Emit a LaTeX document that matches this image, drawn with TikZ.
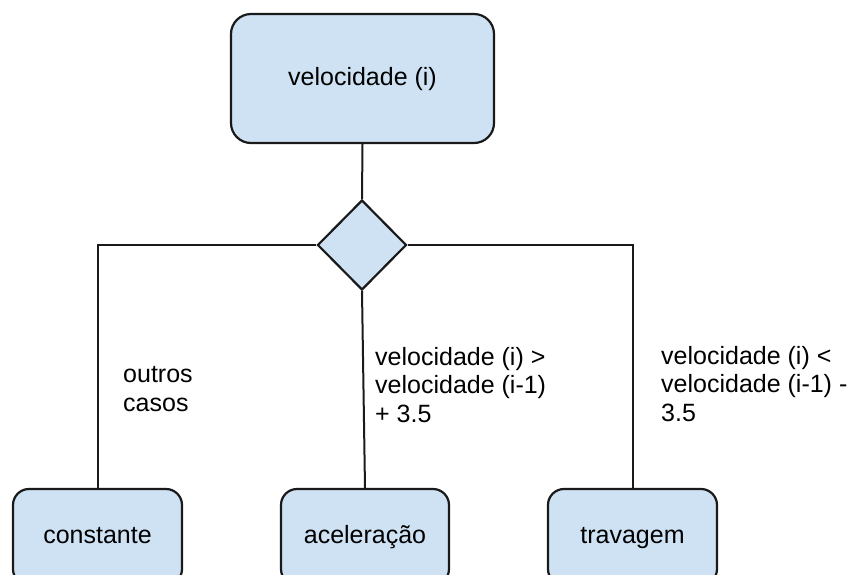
\documentclass[tikz,border=0pt]{standalone}
\usepackage{fontspec}
\setmainfont{Liberation Sans}
\usetikzlibrary{shapes.geometric}

\definecolor{boxfill}{HTML}{CFE2F3}
\definecolor{ink}{HTML}{1A1A1A}

\tikzset{
  stagebox/.style={draw=ink, fill=boxfill, line width=2.2pt, rounded corners=16pt,
    inner sep=0pt, text height=18pt, text depth=5pt,
    font=\fontsize{25}{28.5}\selectfont},
  decision/.style={draw=ink, fill=boxfill, diamond, line width=2.2pt, inner sep=0pt,
    minimum width=89pt, minimum height=90pt},
  wire/.style={draw=ink, line width=2pt},
  % anchored on the baseline of the last line
  cond/.style={inner sep=0pt, anchor=base west, align=left,
    font=\fontsize{25}{28.5}\selectfont}
}

\begin{document}
\begin{tikzpicture}[x=1pt, y=-1pt]
  \useasboundingbox (0,0) rectangle (847,574);
  \clip (0,0) rectangle (847,574);

  % source value and the decision point
  \node[stagebox, rounded corners=20pt, minimum width=263pt, minimum height=129pt]
    (vel) at (362.5,78.5) {velocidade (i)};
  \node[decision] (dec) at (362,245) {};

  % the three outcomes (boxes run past the bottom edge)
  \node[stagebox, minimum width=169pt, minimum height=96pt] (const) at (97.5,537) {constante};
  \node[stagebox, minimum width=168pt, minimum height=96pt] (acel) at (365,537) {aceleração};
  \node[stagebox, minimum width=169pt, minimum height=96pt] (trav) at (632.5,537) {travagem};

  % connectors
  \draw[wire] (vel.south) -- (dec.north);
  \draw[wire] (dec.west) -| (const.north);
  \draw[wire] (dec.south) -- (acel.north);
  \draw[wire] (dec.east) -| (trav.north);

  % branch conditions
  \node[cond] (c1) at (123,411) {outros\\casos};
  \node[cond] (c2) at (375,422) {velocidade (i) >\\velocidade (i-1)\\+ 3.5};
  \node[cond] (c3) at (661,421) {velocidade (i) <\\velocidade (i-1) -\\3.5};
\end{tikzpicture}
\end{document}
